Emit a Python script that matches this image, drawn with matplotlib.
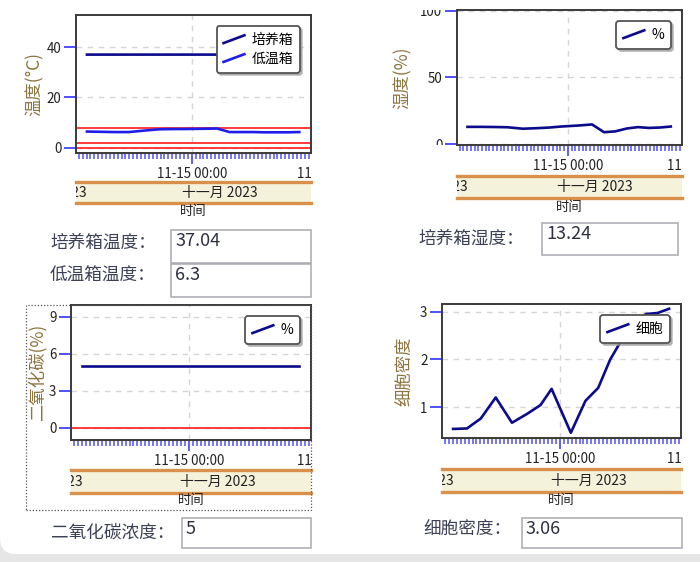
import matplotlib
matplotlib.use('Agg')
import matplotlib.pyplot as plt
import matplotlib.dates as mdates
import pandas as pd
from matplotlib.lines import Line2D
from matplotlib.legend_handler import HandlerBase
from matplotlib.patches import Rectangle, FancyBboxPatch
from matplotlib.transforms import Bbox, TransformedBbox, IdentityTransform, offset_copy

plt.rcParams['font.family'] = ['Noto Sans CJK SC', 'DejaVu Sans']

# ---- data ----
times = pd.to_datetime([
    '2023-11-14 15:02', '2023-11-14 16:12', '2023-11-14 17:22', '2023-11-14 18:37',
    '2023-11-14 19:59', '2023-11-14 21:13', '2023-11-14 22:23', '2023-11-14 23:19',
    '2023-11-15 00:56', '2023-11-15 02:10', '2023-11-15 03:14', '2023-11-15 04:14',
    '2023-11-15 05:17', '2023-11-15 06:16', '2023-11-15 07:15', '2023-11-15 08:13',
    '2023-11-15 09:12'])
incubator_temp = [37.0, 37.0, 37.0, 37.0, 37.0, 37.0, 37.0, 37.0, 37.0,
                  37.0, 37.0, 37.0, 37.0, 37.0, 37.0, 37.0, 37.04]
cold_box_temp = [6.5, 6.4, 6.3, 6.3, 6.9, 7.4, 7.5, 7.5, 7.6,
                 7.7, 6.3, 6.3, 6.3, 6.2, 6.2, 6.2, 6.3]
humidity = [13.0, 13.0, 12.9, 12.7, 11.6, 12.0, 12.5, 13.2, 14.0,
            14.8, 9.0, 9.6, 11.8, 12.8, 12.2, 12.5, 13.24]
co2 = [5.0, 5.0, 5.0, 5.0, 5.0, 5.0, 5.0, 5.0, 5.0,
       5.0, 5.0, 5.0, 5.0, 5.0, 5.0, 5.0, 5.0]
cell_density = [0.54, 0.55, 0.76, 1.20, 0.67, 0.85, 1.04, 1.38, 0.46,
                1.13, 1.40, 1.99, 2.44, 2.76, 2.95, 2.97, 3.06]

temp_limits = [0, 2, 8]
co2_limits = [0]

x_start = pd.Timestamp('2023-11-14 14:06')
x_end = pd.Timestamp('2023-11-15 10:12')
next_major = pd.Timestamp('2023-11-15 12:00')
month_label = '十一月 2023'

readout_names = ['培养箱温度：', '低温箱温度：', '培养箱湿度：', '二氧化碳浓度：', '细胞密度：']
readout_values = ['37.04', '6.3', '13.24', '5', '3.06']

# ---- styling ----
W, H = 700, 562
NAVY = '#0B0B8C'
BRIGHT = '#1E1EEB'
TICK = '#5050FF'
YLAB = '#8C7440'
RED = '#FF1A1A'
TXT = '#3D4155'

fig = plt.figure(figsize=(W / 100, H / 100), dpi=100)
fig.patch.set_facecolor('#E6E6E6')
panel = FancyBboxPatch((0, H - 554), 760, 700, boxstyle='round,pad=0,rounding_size=16',
                       transform=IdentityTransform(), fc='white', ec='none', zorder=-10)
fig.add_artist(panel)


def px_rect(x0, y0, x1, y1):
    return [x0 / W, 1 - y1 / H, (x1 - x0) / W, (y1 - y0) / H]


class SlantLine(HandlerBase):
    def create_artists(self, legend, orig_handle, xdescent, ydescent, width, height, fontsize, trans):
        ln = Line2D([-xdescent, width - xdescent],
                    [0.1 * height - ydescent, 0.9 * height - ydescent],
                    color=orig_handle.get_color(), lw=orig_handle.get_linewidth())
        ln.set_transform(trans)
        return [ln]


def draw_chart(box, strip, label_y, ylabel_x, ylabel, ylim, yticks, series, limits, clip_yticks=False):
    x0, y0, x1, y1 = box
    ax = fig.add_axes(px_rect(*box))
    for vals, name, color in series:
        ax.plot(times, vals, color=color, lw=1.9, label=name, zorder=3)
    for lim in limits:
        ax.axhline(lim, color=RED, lw=1.2, zorder=2)
    ax.set_xlim(x_start, x_end)
    ax.set_ylim(*ylim)
    ax.set_yticks(yticks)
    ax.xaxis.set_major_locator(mdates.HourLocator(byhour=[0, 12]))
    ax.xaxis.set_major_formatter(mdates.DateFormatter('%m-%d %H:%M'))
    ax.xaxis.set_minor_locator(mdates.MinuteLocator(byminute=[0, 20, 40]))
    ax.tick_params(axis='x', which='major', length=8, width=1.3, color=TICK, pad=2,
                   labelsize=9.6, labelcolor='#222222')
    ax.tick_params(axis='x', which='minor', length=4, width=1.1, color=TICK)
    ax.tick_params(axis='y', length=9, width=1.4, color=TICK, pad=1.5,
                   labelsize=9.6, labelcolor='#222222')
    ax.grid(True, which='major', ls=(0, (4, 4)), color='#D6D6D6', lw=1)
    for sp in ax.spines.values():
        sp.set_color('#3A3A3A')
        sp.set_linewidth(1.4)
    ax.set_ylabel(ylabel, fontsize=12.5, color=YLAB, va='center')
    ax.yaxis.set_label_coords((ylabel_x - x0) / (x1 - x0), 0.5)

    if clip_yticks:
        cb = TransformedBbox(Bbox([[-1, 0], [0, 1]]), ax.transAxes)
        for tk in ax.yaxis.get_major_ticks():
            tk.label1.set_clip_box(cb)
            tk.label1.set_clip_on(True)

    leg = ax.legend(loc='upper right', handler_map={Line2D: SlantLine()}, fontsize=10,
                    borderaxespad=0.8, handlelength=1.5, handletextpad=0.5, borderpad=0.5,
                    labelspacing=0.35, fancybox=True, framealpha=1,
                    shadow={'color': '#999999', 'alpha': 0.6, 'ox': 1.5, 'oy': -1.5})
    leg.get_frame().set_edgecolor('#555555')
    leg.get_frame().set_linewidth(1.3)
    leg.set_zorder(5)

    # next major label, cut by the right edge of the plot
    lbl = fig.text(mdates.date2num(next_major), 0, next_major.strftime('%m-%d %H:%M'),
                   transform=offset_copy(ax.get_xaxis_transform(), fig=fig, y=-10, units='points'),
                   ha='center', va='top', fontsize=9.6, color='#222222')
    lbl.set_clip_box(TransformedBbox(Bbox([[0, -2], [1, 0]]), ax.transAxes))
    lbl.set_clip_on(True)

    # month strip
    s0, s1 = strip
    sax = fig.add_axes(px_rect(x0, s0, x1, s1))
    sax.set_facecolor('#F5F2DC')
    sax.set_xticks([])
    sax.set_yticks([])
    for side in ['left', 'right']:
        sax.spines[side].set_visible(False)
    for side in ['top', 'bottom']:
        sax.spines[side].set_color('#D9904A')
        sax.spines[side].set_linewidth(2.4)
    sax.text(0.613, 0.5, month_label, transform=sax.transAxes, ha='center', va='center',
             fontsize=10, color='#222222', clip_on=True)
    sax.text(0.047, 0.5, month_label, transform=sax.transAxes, ha='right', va='center',
             fontsize=10, color='#222222', clip_on=True)
    fig.text((x0 + x1) / 2 / W, 1 - label_y / H, '时间', ha='center', va='center',
             fontsize=9.6, color='#222222')
    return ax


draw_chart((76, 15, 311, 153), (182, 203), 211, 35, '温度(°C)', (-2, 52.7), [0, 20, 40],
           [(incubator_temp, '培养箱', NAVY), (cold_box_temp, '低温箱', BRIGHT)], temp_limits)
draw_chart((457, 10, 682, 145), (176, 198), 207, 403, '湿度(%)', (-0.6, 100.6), [0, 50, 100],
           [(humidity, '%', NAVY)], [], clip_yticks=True)
draw_chart((71, 305, 311, 440), (470, 493), 500, 37, '二氧化碳(%)', (-1.0, 9.95), [0, 3, 6, 9],
           [(co2, '%', NAVY)], co2_limits)
draw_chart((442, 304, 681, 438), (469, 492), 500, 405, '细胞密度', (0.35, 3.16), [1, 2, 3],
           [(cell_density, '细胞', NAVY)], [])

# dotted focus frame around the CO2 chart
fig.add_artist(Rectangle((26, H - 510), 285, 205, transform=IdentityTransform(), fill=False,
                         ec='#555555', lw=0.9, ls=(0, (1, 1.5))))

# readouts
READOUT_POS = [
    (50, 243, (171, 230, 311, 263)),
    (50, 276, (171, 264, 311, 297)),
    (418, 239, (542, 223, 678, 255)),
    (51, 533, (182, 518, 311, 548)),
    (423, 530, (522, 518, 682, 548)),
]
for name, value, (lx, ly, (bx0, by0, bx1, by1)) in zip(readout_names, readout_values, READOUT_POS):
    fig.text(lx / W, 1 - ly / H, name, ha='left', va='center', fontsize=12.7, color=TXT)
    fig.add_artist(Rectangle((bx0, H - by1), bx1 - bx0, by1 - by0, transform=IdentityTransform(),
                             fc='white', ec='#A8A8B2', lw=1.1))
    fig.text((bx0 + 4) / W, 1 - (by0 + 2) / H, value, ha='left', va='top', fontsize=13, color='#2E3040')

fig.savefig('out.png', dpi=100)
